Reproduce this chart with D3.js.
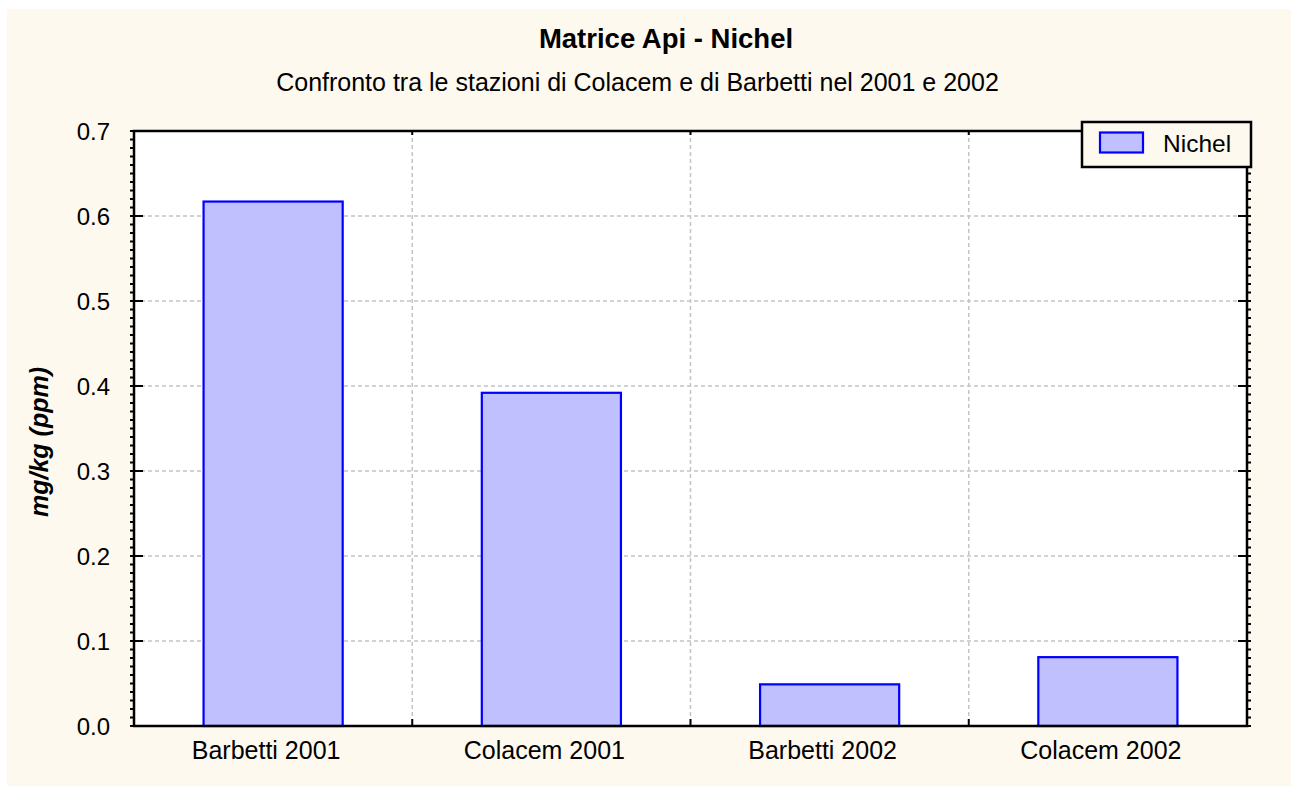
<!DOCTYPE html>
<html><head><meta charset="utf-8">
<script src="https://cdn.jsdelivr.net/npm/d3@7"></script>
<style>html,body{margin:0;padding:0;background:#fdf9ef;overflow:hidden;}svg{display:block;}</style>
</head><body>
<svg id="c" width="1291" height="786"></svg>
<script>
const categories = ["Barbetti 2001", "Colacem 2001", "Barbetti 2002", "Colacem 2002"];
const values = [0.617, 0.392, 0.049, 0.081];
const seriesName = "Nichel";
const yTicks = [0.0, 0.1, 0.2, 0.3, 0.4, 0.5, 0.6, 0.7];
const title = "Matrice Api - Nichel";
const subtitle = "Confronto tra le stazioni di Colacem e di Barbetti nel 2001 e 2002";
const yLabel = "mg/kg (ppm)";

const W = 1291, H = 786;
const m = {l: 134, t: 131, r: 1247, b: 726};
const font = "'Liberation Sans', Arial, sans-serif";
const svg = d3.select("#c");
svg.append("rect").attr("x", 0).attr("y", 0).attr("width", W).attr("height", H).attr("fill", "#fff");
svg.append("rect").attr("x", 7).attr("y", 9).attr("width", W - 7).attr("height", H - 9).attr("fill", "#fdf9ef");

const x = d3.scaleBand().domain(categories).range([m.l, m.r]).paddingInner(0).paddingOuter(0);
const y = d3.scaleLinear().domain([0, 0.7]).range([m.b, m.t]);

svg.append("rect").attr("x", m.l).attr("y", m.t).attr("width", m.r - m.l).attr("height", m.b - m.t).attr("fill", "#fff");

// grid
const g = svg.append("g");
yTicks.slice(1, -1).forEach(v => {
  g.append("line").attr("x1", m.l).attr("x2", m.r).attr("y1", y(v)).attr("y2", y(v))
   .attr("stroke", "#c4c4c4").attr("stroke-width", 1.5).attr("stroke-dasharray", "4,3");
});
const bounds = categories.slice(1).map(c => x(c));
bounds.forEach(bx => {
  g.append("line").attr("x1", bx).attr("x2", bx).attr("y1", m.t).attr("y2", m.b)
   .attr("stroke", "#c4c4c4").attr("stroke-width", 1.5).attr("stroke-dasharray", "4,3");
});

// bars
const bw = x.bandwidth() / 2;
svg.append("g").selectAll("rect").data(values).join("rect")
  .attr("x", (d, i) => x(categories[i]) + x.bandwidth() / 2 - bw / 2)
  .attr("width", bw)
  .attr("y", d => y(d))
  .attr("height", d => y(0) - y(d))
  .attr("fill", "#c0c0ff").attr("stroke", "#0000ff").attr("stroke-width", 2.2);

// minor ticks
const minor = d3.range(0, 71).map(i => i / 100).filter(v => Math.round(v * 100) % 10 !== 0);
const ax = svg.append("g").attr("stroke", "#000");
minor.forEach(v => {
  ax.append("line").attr("x1", m.l - 4).attr("x2", m.l).attr("y1", y(v)).attr("y2", y(v)).attr("stroke-width", 2);
  ax.append("line").attr("x1", m.r).attr("x2", m.r + 4).attr("y1", y(v)).attr("y2", y(v)).attr("stroke-width", 2);
});
yTicks.forEach(v => {
  ax.append("line").attr("x1", m.l - 4).attr("x2", m.l + 9).attr("y1", y(v)).attr("y2", y(v)).attr("stroke-width", 2);
  ax.append("line").attr("x1", m.r - 9).attr("x2", m.r + 4).attr("y1", y(v)).attr("y2", y(v)).attr("stroke-width", 2);
});
bounds.forEach(bx => {
  ax.append("line").attr("x1", bx).attr("x2", bx).attr("y1", m.b).attr("y2", m.b - 7).attr("stroke-width", 2);
  ax.append("line").attr("x1", bx).attr("x2", bx).attr("y1", m.t).attr("y2", m.t + 4).attr("stroke-width", 2);
});
svg.append("rect").attr("x", m.l).attr("y", m.t).attr("width", m.r - m.l).attr("height", m.b - m.t)
  .attr("fill", "none").attr("stroke", "#000").attr("stroke-width", 2.5);

// axis labels
const yAxis = d3.axisLeft(y).tickValues(yTicks).tickFormat(d3.format(".1f")).tickSize(0).tickPadding(24);
const yg = svg.append("g").attr("transform", `translate(${m.l},0)`).call(yAxis);
yg.select(".domain").remove();
yg.selectAll("text").attr("font-family", font).attr("font-size", 24).attr("fill", "#000").attr("dy", "0.35em");

const xAxis = d3.axisBottom(x).tickSize(0).tickPadding(0);
const xg = svg.append("g").attr("transform", `translate(0,${m.b})`).call(xAxis);
xg.select(".domain").remove();
xg.selectAll("text").attr("font-family", font).attr("font-size", 25).attr("fill", "#000")
  .attr("y", 33).attr("dy", 0).attr("dx", -7);

// titles
svg.append("text").attr("x", 666).attr("y", 48).attr("text-anchor", "middle")
  .attr("font-family", font).attr("font-size", 27.5).attr("font-weight", "bold").text(title);
svg.append("text").attr("x", 637.5).attr("y", 91).attr("text-anchor", "middle")
  .attr("font-family", font).attr("font-size", 25).text(subtitle);
svg.append("text").attr("transform", "translate(48,442) rotate(-90)").attr("text-anchor", "middle")
  .attr("font-family", font).attr("font-size", 25).attr("font-weight", "bold").attr("font-style", "italic").text(yLabel);

// legend
const lg = svg.append("g");
lg.append("rect").attr("x", 1082).attr("y", 122).attr("width", 169).attr("height", 45)
  .attr("fill", "#fdf9ef").attr("stroke", "#000").attr("stroke-width", 2.5);
lg.append("rect").attr("x", 1100).attr("y", 132.5).attr("width", 43).attr("height", 20)
  .attr("fill", "#c0c0ff").attr("stroke", "#0000ff").attr("stroke-width", 2.2);
lg.append("text").attr("x", 1163).attr("y", 152).attr("font-family", font).attr("font-size", 24.5).text(seriesName);
</script>
</body></html>
